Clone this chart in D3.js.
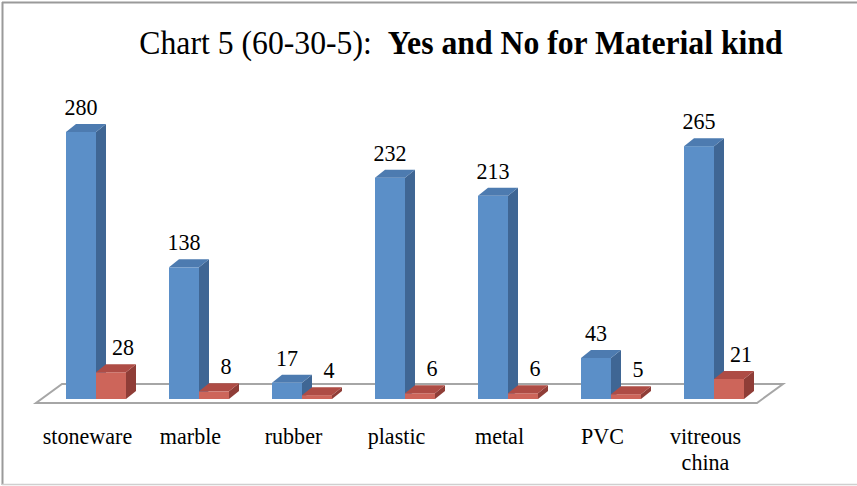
<!DOCTYPE html>
<html>
<head>
<meta charset="utf-8">
<script src="https://cdn.jsdelivr.net/npm/d3@7"></script>
<style>
html,body{margin:0;padding:0;background:#fff;}
svg{display:block;}
</style>
</head>
<body>
<svg id="chart" width="857" height="486"></svg>
<script>
const categories = ["stoneware", "marble", "rubber", "plastic", "metal", "PVC", "vitreous china"];
const seriesNames = ["Yes", "No"];
const yesValues = [280, 138, 17, 232, 213, 43, 265];
const noValues = [28, 8, 4, 6, 6, 5, 21];
const titleNormal = "Chart 5 (60-30-5):";
const titleBold = "Yes and No for Material kind";

const W = 857, H = 486;
const svg = d3.select("#chart");
const font = "Liberation Serif, Times New Roman, serif";
const squeeze = 0.92;

// frame
svg.append("line").attr("x1", 2).attr("x2", W).attr("y1", 2.5).attr("y2", 2.5).attr("stroke", "#9a9a9a").attr("stroke-width", 2);
svg.append("line").attr("x1", 2.5).attr("x2", 2.5).attr("y1", 2).attr("y2", 485).attr("stroke", "#9a9a9a").attr("stroke-width", 2);
svg.append("line").attr("x1", 2).attr("x2", W).attr("y1", 484.5).attr("y2", 484.5).attr("stroke", "#cfcfcf").attr("stroke-width", 1.5);

function label(parent, x, yPos, size) {
  return parent.append("text")
    .attr("transform", `translate(${x},${yPos}) scale(${squeeze},1)`)
    .attr("text-anchor", "middle")
    .attr("font-family", font).attr("font-size", size).attr("fill", "#000");
}

// title
const title = label(svg, 461, 54, 34.5);
title.append("tspan").text(titleNormal + "\u00a0\u00a0");
title.append("tspan").attr("font-weight", "bold").text(titleBold);

// scales
const floorFront = 403;
const floorDepth = {dx: 26, dy: -19};
const barDepth = {dx: 10, dy: -8};
const baseY = 399;

const x0 = d3.scaleBand().domain(categories).range([36, 757]).padding(0);
const x1 = d3.scaleBand().domain(seriesNames).range([30, 90]).padding(0);
const y = d3.scaleLinear().domain([0, 300]).range([baseY, baseY - 300 * 0.954]);

// floor
const fx0 = x0.range()[0], fx1 = x0.range()[1];
const floorPts = [
  [fx0, floorFront], [fx1, floorFront],
  [fx1 + floorDepth.dx, floorFront + floorDepth.dy], [fx0 + floorDepth.dx, floorFront + floorDepth.dy]
];
svg.append("polygon").attr("points", floorPts.map(p => p.join(",")).join(" "))
  .attr("fill", "#fff").attr("stroke", "#a6a6a6").attr("stroke-width", 2).attr("stroke-linejoin", "miter");

const colors = {
  Yes: {front: "#5b8fc8", side: "#3f6694", top: "#4d7bb0"},
  No:  {front: "#cd655a", side: "#8f3d37", top: "#ae4c45"}
};

const data = categories.map((c, i) => ({cat: c, vals: [
  {s: "Yes", v: yesValues[i]}, {s: "No", v: noValues[i]}
]}));

const g = svg.append("g");
data.forEach(d => {
  d.vals.forEach(b => {
    const xl = x0(d.cat) + x1(b.s);
    const xr = xl + x1.bandwidth();
    const yt = y(b.v), yb = y(0);
    const c = colors[b.s];
    const dx = barDepth.dx, dy = barDepth.dy;
    g.append("rect").attr("x", xl).attr("y", yt).attr("width", xr - xl).attr("height", yb - yt).attr("fill", c.front);
    g.append("polygon").attr("points", [[xr, yt], [xr + dx, yt + dy], [xr + dx, yb + dy], [xr, yb]].map(p => p.join(",")).join(" "))
      .attr("fill", c.side);
    g.append("polygon").attr("points", [[xl, yt], [xr, yt], [xr + dx, yt + dy], [xl + dx, yt + dy]].map(p => p.join(",")).join(" "))
      .attr("fill", c.top);
  });
});

// value labels
const labelShift = {Yes: 0, No: 12};
data.forEach(d => {
  d.vals.forEach(b => {
    const cx = x0(d.cat) + x1(b.s) + x1.bandwidth() / 2 + labelShift[b.s];
    label(svg, cx, y(b.v) - 17, 24).text(b.v);
  });
});

// category labels
categories.forEach(c => {
  const words = c.split(" ");
  const cx = x0(c) + x0.bandwidth() / 2;
  if (words.length > 1 && c.length > 10) {
    words.forEach((w, i) => label(svg, cx, 444 + i * 26, 24).text(w));
  } else {
    label(svg, cx, 444, 24).text(c);
  }
});
</script>
</body>
</html>
